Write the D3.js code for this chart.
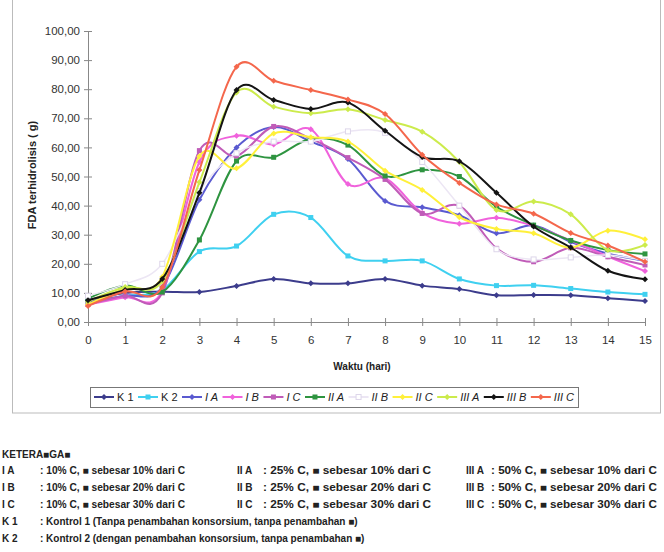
<!DOCTYPE html>
<html>
<head>
<meta charset="utf-8">
<script src="https://cdn.jsdelivr.net/npm/d3@7"></script>
<style>
  body { margin: 0; background: #fff; }
  svg { font-family: "Liberation Sans", Arial, sans-serif; }
</style>
</head>
<body>
<div id="chart"></div>
<script>
// data
const days = [0, 1, 2, 3, 4, 5, 6, 7, 8, 9, 10, 11, 12, 13, 14, 15];
const seriesNames = ["K 1", "K 2", "I A", "I B", "I C", "II A", "II B", "II C", "III A", "III B", "III C"];
const seriesColors = ["#3c3c8c", "#3fd0f0", "#5a5ad0", "#f062dc", "#c05cb8", "#2e9440", "#ece6f4", "#fff03a", "#cceb4c", "#141414", "#f4674c"];
const K1   = [7.5, 10, 10.4, 10.3, 12.4, 14.8, 13.3, 13.3, 14.8, 12.5, 11.3, 9.2, 9.3, 9.2, 8.2, 7.2];
const K2   = [7, 9, 11, 24.2, 26.1, 37, 35.9, 22.7, 21, 21, 14.8, 12.5, 12.6, 11.5, 10.3, 9.5];
const IA   = [7, 9, 12, 42, 60, 67, 62, 56, 41.6, 39.4, 36.7, 30.5, 33.2, 27.5, 23.5, 21];
const IB   = [6, 8.5, 10.5, 55, 64, 61, 66.2, 47.4, 49.4, 37.5, 33.8, 35.8, 33, 28, 22.5, 17.5];
const IC   = [6, 9, 10, 58.9, 57, 67.2, 63, 56.5, 49, 37.3, 39.9, 25.3, 20.7, 25.5, 22.4, 19.6];
const IIA  = [8, 12.5, 10.3, 28.2, 55.3, 56.6, 63, 60.8, 50.2, 52.3, 50, 39.6, 33.3, 28, 24.7, 23.4];
const IIB  = [9, 13, 20, 45, 58, 62, 62, 65.5, 65, 55, 40, 25, 21.5, 22.2, 23, 21];
const IIC  = [6, 11.5, 15.5, 57, 52.8, 64.8, 63.5, 62, 52, 45.4, 36, 32, 30.5, 25.5, 31.4, 28.4];
const IIIA = [7, 12, 14, 48, 78.9, 74, 71.7, 73.1, 69.4, 65.4, 55, 38.5, 41.4, 37, 24.7, 26.5];
const IIIB = [7.5, 11, 14.8, 44.4, 79.7, 76.3, 73.2, 75.4, 65.7, 56.7, 55.2, 44.4, 32.8, 25.6, 17.6, 14.7];
const IIIC = [5.5, 10.5, 12, 52.2, 87.7, 82.9, 79.7, 76.5, 71.5, 57.5, 47.8, 40.4, 37.2, 30.6, 26.3, 20.7];
const allSeries = [K1, K2, IA, IB, IC, IIA, IIB, IIC, IIIA, IIIB, IIIC];
const yTicks = [0, 10, 20, 30, 40, 50, 60, 70, 80, 90, 100];

// keterangan (notes under the chart)
const noteTitle = "KETERA■GA■";
const notesCol1 = [["I A", ": 10%  C, ■ sebesar 10% dari C"], ["I B", ": 10%  C, ■ sebesar 20% dari C"], ["I C", ": 10%  C, ■ sebesar 30% dari C"]];
const notesCol2 = [["II A", ": 25%  C, ■ sebesar 10% dari C"], ["II B", ": 25%  C, ■ sebesar 20% dari C"], ["II C", ": 25%  C, ■ sebesar 30% dari C"]];
const notesCol3 = [["III A", ": 50%  C, ■ sebesar 10% dari C"], ["III B", ": 50%  C, ■ sebesar 20% dari C"], ["III C", ": 50%  C, ■ sebesar 30% dari C"]];
const notesK = [["K 1", ": Kontrol 1 (Tanpa penambahan konsorsium, tanpa penambahan ■)"], ["K 2", ": Kontrol 2 (dengan penambahan konsorsium, tanpa penambahan ■)"]];

const W = 664, H = 552;
const svg = d3.select("#chart").append("svg").attr("width", W).attr("height", H);

// chart area frame
svg.append("rect").attr("x", 12.5).attr("y", -2).attr("width", 648).attr("height", 415)
  .attr("fill", "none").attr("stroke", "#bbb").attr("stroke-width", 1);

const x = d3.scaleLinear().domain([0, 15]).range([88, 645]);
const y = d3.scaleLinear().domain([0, 100]).range([322, 31]);

// y axis
const yAxis = svg.append("g").attr("transform", "translate(88,0)")
  .call(d3.axisLeft(y).tickValues(yTicks).tickSize(4).tickPadding(4)
    .tickFormat(d => d3.format(".2f")(d).replace(".", ",")));
yAxis.selectAll(".tick line").attr("x2", 4).attr("x1", -4);
// x axis
const xAxis = svg.append("g").attr("transform", "translate(0,322)")
  .call(d3.axisBottom(x).tickValues(days).tickSize(4).tickPadding(10).tickFormat(d3.format("d")));
xAxis.selectAll(".tick line").attr("y1", -4).attr("y2", 4);
svg.selectAll(".domain").attr("stroke", "#888");
svg.selectAll(".tick line").attr("stroke", "#888");
svg.selectAll(".tick text").attr("fill", "#333").style("font-size", "11.5px");
yAxis.selectAll(".tick text").attr("x", -8);

svg.append("text").attr("transform", "translate(36,175) rotate(-90)")
  .attr("text-anchor", "middle").style("font-size", "11px").style("font-weight", "bold")
  .attr("fill", "#222").text("FDA terhidrolisis ( g)");
svg.append("text").attr("x", 362).attr("y", 370).attr("text-anchor", "middle")
  .style("font-size", "10px").style("font-weight", "bold").attr("fill", "#222").text("Waktu (hari)");

// lines
const line = d3.line().x((d, i) => x(days[i])).y(d => y(d)).curve(d3.curveCardinal.tension(0));
function marker(sel, i, cx, cy) {
  if (i === 6) {
    sel.append("rect").attr("x", cx - 2.5).attr("y", cy - 2.5).attr("width", 5).attr("height", 5)
      .attr("fill", "#fff").attr("stroke", "#ddd6ea").attr("stroke-width", 1);
  } else if (i === 4 || i === 5 || i === 1) {
    sel.append("rect").attr("x", cx - 2.5).attr("y", cy - 2.5).attr("width", 5).attr("height", 5)
      .attr("fill", seriesColors[i]);
  } else {
    sel.append("path").attr("d", `M${cx - 3},${cy}L${cx},${cy - 3}L${cx + 3},${cy}L${cx},${cy + 3}Z`)
      .attr("fill", seriesColors[i]);
  }
}
allSeries.forEach((vals, i) => {
  const g = svg.append("g");
  g.append("path").attr("d", line(vals)).attr("fill", "none")
    .attr("stroke", seriesColors[i]).attr("stroke-width", i === 6 ? 1.5 : 2);
  vals.forEach((v, j) => marker(g, i, x(days[j]), y(v)));
});

// legend
const lg = svg.append("g");
const box = {x0: 90, x1: 578, y0: 387, y1: 407};
lg.append("rect").attr("x", box.x0 + 0.5).attr("y", box.y0 + 0.5)
  .attr("width", box.x1 - box.x0).attr("height", box.y1 - box.y0)
  .attr("fill", "#fff").attr("stroke", "#777");
const lineLen = 20;
const texts = seriesNames.map((n, i) => lg.append("text").attr("y", 401)
  .style("font-size", "11px").style("font-style", i < 2 ? "normal" : "italic")
  .attr("fill", "#222").text(n));
const widths = texts.map(t => t.node().getComputedTextLength());
const used = d3.sum(widths) + seriesNames.length * (lineLen + 3);
const gap = (box.x1 - box.x0 - 8 - used) / (seriesNames.length - 1);
let cx = box.x0 + 4;
seriesNames.forEach((n, i) => {
  lg.append("line").attr("x1", cx).attr("x2", cx + lineLen).attr("y1", 397).attr("y2", 397)
    .attr("stroke", seriesColors[i]).attr("stroke-width", 2);
  marker(lg, i, cx + lineLen / 2, 397);
  texts[i].attr("x", cx + lineLen + 3);
  cx += lineLen + 3 + widths[i] + gap;
});

// keterangan
const nt = svg.append("g").style("font-size", "10px").style("font-weight", "bold").attr("fill", "#222");
nt.append("text").attr("x", 2).attr("y", 458).text(noteTitle);
const rowY = [474, 491, 508, 525, 542];
[[notesCol1, 2, 40, 145], [notesCol2, 237, 263, 168], [notesCol3, 466, 491, 166]].forEach(([rows, lx, tx, tw]) => {
  rows.forEach((r, k) => {
    nt.append("text").attr("x", lx).attr("y", rowY[k]).text(r[0]);
    nt.append("text").attr("x", tx).attr("y", rowY[k])
      .attr("textLength", tw).attr("lengthAdjust", "spacingAndGlyphs").text(r[1]);
  });
});
notesK.forEach((r, k) => {
  nt.append("text").attr("x", 2).attr("y", rowY[3 + k]).text(r[0]);
  nt.append("text").attr("x", 40).attr("y", rowY[3 + k]).text(r[1]);
});
</script>
</body>
</html>
